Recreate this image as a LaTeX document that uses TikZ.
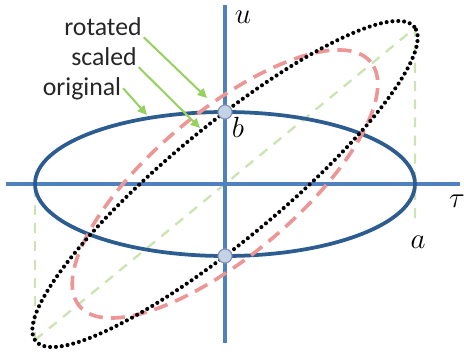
\documentclass[tikz,border=0pt]{standalone}
\usepackage{fontspec}
\setmainfont{Carlito}
\usetikzlibrary{arrows.meta}
\definecolor{axisblue}{RGB}{79,129,189}
\definecolor{origblue}{RGB}{45,92,145}
\definecolor{rotpink}{RGB}{236,150,150}
\definecolor{guidegreen}{RGB}{204,228,180}
\definecolor{arrowgreen}{RGB}{150,208,95}
\definecolor{dotfill}{RGB}{196,210,230}
\definecolor{dotedge}{RGB}{130,150,180}

\begin{document}
\begin{tikzpicture}[x=0.3mm, y=0.3mm,
  axis/.style={axisblue, line width=2.8pt},
  orig/.style={origblue, line width=3.2pt},
  rotd/.style={rotpink, line width=3.1pt, dash pattern=on 12pt off 7pt},
  scld/.style={black, line width=3.5pt, line cap=round, dash pattern=on 0pt off 5pt},
  guide/.style={guidegreen, line width=2pt, dash pattern=on 8.5pt off 7pt},
  pointer/.style={arrowgreen, line width=1.7pt, -{Triangle[length=8pt,width=7.5pt]}},
  lbl/.style={font=\fontsize{22}{26}\selectfont, text=black!85, inner sep=1.5pt, anchor=base},
  var/.style={font=\fontsize{24}{28}\selectfont, inner sep=0pt, anchor=base},
  pt/.style={circle, draw=dotedge, fill=dotfill, line width=1pt, minimum size=4.2mm, inner sep=0pt}]
\useasboundingbox (-225,-172) rectangle (239,184);
\coordinate (c1) at (-190,-156);
\coordinate (c2) at (190,156);
\coordinate (ga) at (190,-41);
\coordinate (gl) at (-190,-3);
\draw[guide] (c1) -- (c2) -- (ga);
\draw[guide] (gl) -- (c1);
\coordinate (tl) at (-219,0);
\coordinate (tr) at (235,0);
\coordinate (ut) at (0,179);
\coordinate (ub) at (0,-159);
\draw[axis] (tl) -- (tr);
\draw[axis] (ut) -- (ub);
\draw[orig] (0,0) ellipse [x radius=190, y radius=72];
\draw[rotd, rotate=40] (0,0) ellipse [x radius=190, y radius=72];
\draw[scld, rotate=39.7] (0,0) ellipse [x radius=246, y radius=56.4];
\node[pt] (bt) at (0,72) {};
\node[pt] (bb) at (0,-72) {};
\node[var] (ulbl) at (18,161) {$u$};
\node[var] (blbl) at (13,47) {$b$};
\node[var] (albl) at (193,-64) {$a$};
\node[var] (taulbl) at (232,-23) {$\tau$};
\node[lbl] (rotlbl) at (-122,149) {rotated};
\node[lbl] (scllbl) at (-121,119) {scaled};
\node[lbl] (origlbl) at (-143,89) {original};
\coordinate (rottip) at (-18,86);
\coordinate (scltip) at (-25,56);
\coordinate (origtip) at (-78,69);
\draw[pointer] (rotlbl.south east) -- (rottip);
\draw[pointer] (scllbl.south east) -- (scltip);
\draw[pointer] (origlbl.east) -- (origtip);
\end{tikzpicture}
\end{document}
